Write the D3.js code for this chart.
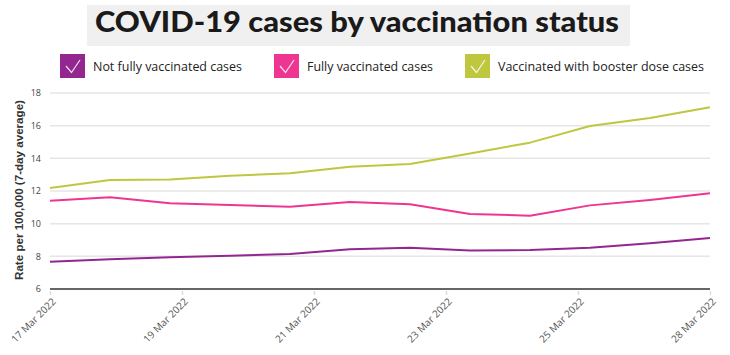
<!DOCTYPE html>
<html>
<head>
<meta charset="utf-8">
<script src="https://cdn.jsdelivr.net/npm/d3@7"></script>
<style>
  html, body { margin: 0; padding: 0; background: #fff; }
  svg { display: block; }
</style>
</head>
<body>
<svg id="chart" width="730" height="355"></svg>
<script>
const dates = ["17 Mar 2022","18 Mar 2022","19 Mar 2022","20 Mar 2022","21 Mar 2022","22 Mar 2022",
               "23 Mar 2022","24 Mar 2022","25 Mar 2022","26 Mar 2022","27 Mar 2022","28 Mar 2022"];
const notFully = [7.67, 7.82, 7.94, 8.04, 8.14, 8.43, 8.53, 8.35, 8.39, 8.53, 8.80, 9.12];
const fully    = [11.41, 11.62, 11.25, 11.14, 11.04, 11.33, 11.19, 10.59, 10.49, 11.12, 11.45, 11.86];
const booster  = [12.18, 12.67, 12.70, 12.94, 13.08, 13.49, 13.65, 14.30, 14.96, 15.98, 16.47, 17.13];
const tickLabels = ["17 Mar 2022","19 Mar 2022","21 Mar 2022","23 Mar 2022","25 Mar 2022","28 Mar 2022"];
const yTicks = [6, 8, 10, 12, 14, 16, 18];
const seriesNames = ["Not fully vaccinated cases","Fully vaccinated cases","Vaccinated with booster dose cases"];
const colors = ["#93278f","#ef3592","#bfc73f"];
const title = "COVID-19 cases by vaccination status";
const yLabel = "Rate per 100,000 (7-day average)";

const series = [notFully, fully, booster];
const svg = d3.select("#chart");

// Title
svg.append("rect").attr("x", 87).attr("y", 5).attr("width", 543).attr("height", 41).attr("fill", "#f0f0f0");
svg.append("text").attr("x", 95).attr("y", 32)
  .attr("font-family", "Lato, 'Open Sans', sans-serif").attr("font-weight", 900)
  .attr("font-size", 29).attr("fill", "#1a1a1a")
  .attr("textLength", 524).attr("lengthAdjust", "spacingAndGlyphs")
  .text(title);

// Legend
const legendX = [60, 274, 465];
const legendW = [149, 126, 206];
const legend = svg.append("g");
seriesNames.forEach((name, i) => {
  const g = legend.append("g").attr("transform", `translate(${legendX[i]},54)`);
  g.append("rect").attr("width", 25).attr("height", 24).attr("fill", colors[i]);
  g.append("path").attr("d", "M6,12 L11.5,18.5 L20,6").attr("fill", "none")
    .attr("stroke", "#fff").attr("stroke-opacity", 0.85).attr("stroke-width", 1.2);
  g.append("text").attr("x", 33).attr("y", 17)
    .attr("font-family", "'Open Sans', sans-serif").attr("font-size", 12.6).attr("fill", "#222")
    .attr("textLength", legendW[i]).attr("lengthAdjust", "spacingAndGlyphs")
    .text(name);
});

// Scales
const x = d3.scalePoint().domain(dates).range([50, 710]);
const xAxisScale = d3.scalePoint().domain(tickLabels).range([50, 710]);
const y = d3.scaleLinear().domain([6, 18]).range([289, 93]);

// Gridlines
svg.append("g").selectAll("line").data(yTicks.filter(d => d !== 6)).join("line")
  .attr("x1", 50).attr("x2", 710).attr("y1", d => y(d)).attr("y2", d => y(d))
  .attr("stroke", "#e6e6e6").attr("stroke-width", 1.5);

// Y axis labels
const yAxis = svg.append("g").attr("transform", "translate(50,0)")
  .call(d3.axisLeft(y).tickValues(yTicks).tickSize(0).tickPadding(9).tickFormat(d3.format("d")));
yAxis.select(".domain").remove();
yAxis.selectAll("text").attr("font-family", "'Open Sans', sans-serif").attr("font-size", 9).attr("fill", "#444");

// Y title
svg.append("text").attr("transform", "translate(23,190) rotate(-90)")
  .attr("text-anchor", "middle").attr("font-family", "'Liberation Sans', Arial, sans-serif")
  .attr("font-weight", "bold").attr("font-size", 11).attr("fill", "#333")
  .attr("textLength", 180).attr("lengthAdjust", "spacingAndGlyphs")
  .text(yLabel);

// X axis
const xAxis = svg.append("g").attr("transform", "translate(0,289)")
  .call(d3.axisBottom(xAxisScale).tickSize(6).tickPadding(4));
xAxis.select(".domain").attr("stroke", "#333").attr("stroke-width", 1.5).attr("d", "M50,0H710");
xAxis.selectAll(".tick line").attr("stroke", "#ddd").attr("stroke-width", 1.5).attr("y1", 2);
xAxis.selectAll(".tick text")
  .attr("font-family", "'Open Sans', sans-serif").attr("font-size", 10).attr("fill", "#555")
  .attr("text-anchor", "end").attr("dy", "0.3em")
  .attr("transform", "translate(4,11) rotate(-45)")
  .attr("y", 0).attr("x", 0);

// Lines
const line = d3.line().x((d, i) => x(dates[i])).y(d => y(d));
svg.append("g").selectAll("path").data(series).join("path")
  .attr("d", d => line(d)).attr("fill", "none")
  .attr("stroke", (d, i) => colors[i]).attr("stroke-width", 2).attr("stroke-linejoin", "round");
</script>
</body>
</html>
